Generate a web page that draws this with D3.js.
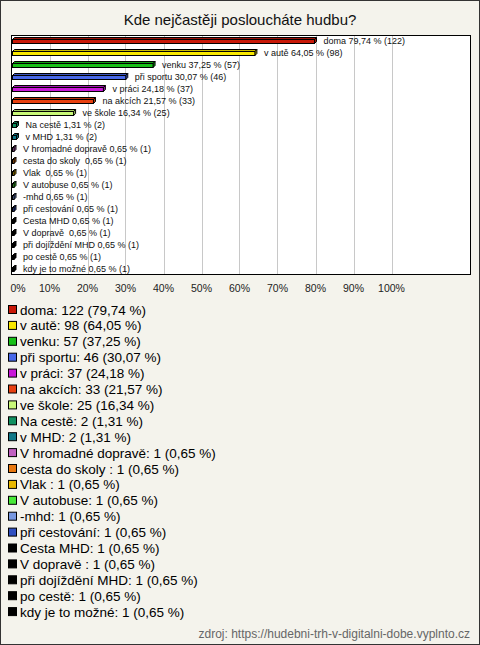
<!DOCTYPE html>
<html><head><meta charset="utf-8">
<script src="https://cdn.jsdelivr.net/npm/d3@7"></script>
<style>
html,body{margin:0;padding:0;background:#fff;}
svg text{font-family:"Liberation Sans",Arial,sans-serif;white-space:pre;}
</style></head>
<body>
<script>
const categories = ["doma","v autě","venku","při sportu","v práci","na akcích","ve škole","Na cestě","v MHD","V hromadné dopravě","cesta do skoly ","Vlak ","V autobuse","-mhd","při cestování","Cesta MHD","V dopravě ","při dojíždění MHD","po cestě","kdy je to možné"];
const counts = [122,98,57,46,37,33,25,2,2,1,1,1,1,1,1,1,1,1,1,1];
const percents = [79.74,64.05,37.25,30.07,24.18,21.57,16.34,1.31,1.31,0.65,0.65,0.65,0.65,0.65,0.65,0.65,0.65,0.65,0.65,0.65];
const colors = ["#c81808","#f8e800","#18c018","#4868e8","#c818d8","#e84010","#c8f878","#109060","#107888","#c060c0","#e87810","#e8b800","#48e838","#7898e0","#3050c0","#000","#000","#000","#000","#000"];
const ticks = [0,10,20,30,40,50,60,70,80,90,100];
const title = "Kde nejčastěji posloucháte hudbu?";
const source = "zdroj: https://hudebni-trh-v-digitalni-dobe.vyplnto.cz";

const W = 480, H = 645;
const fmt = v => v.toFixed(2).replace(".", ",");
const svg = d3.select("body").append("svg").attr("width", W).attr("height", H);
svg.append("rect").attr("x",0.5).attr("y",0.5).attr("width",W-1).attr("height",H-1)
  .attr("fill","#f4f3ec").attr("stroke","#333");
svg.append("text").attr("x",240).attr("y",25).attr("text-anchor","middle")
  .attr("font-size",15).attr("fill","#111").text(title);

const plot = {x0:11, x1:470, y0:35, y1:274};
svg.append("rect").attr("x",plot.x0+0.5).attr("y",plot.y0+0.5)
  .attr("width",plot.x1-plot.x0).attr("height",plot.y1-plot.y0)
  .attr("fill","#fff").attr("stroke","#000");

const x = d3.scaleLinear().domain([0,100]).range([11.5,391.5]);
const y = d3.scaleBand().domain(categories).range([plot.y0-0.5, plot.y1-0.5]).padding(0);

svg.append("g").selectAll("line").data(ticks.slice(1)).join("line")
  .attr("x1",d=>Math.round(x(d))+0.5).attr("x2",d=>Math.round(x(d))+0.5)
  .attr("y1",plot.y0+1).attr("y2",plot.y1)
  .attr("stroke","#c8c8c8");

svg.append("g").selectAll("text").data(ticks).join("text")
  .attr("x",d=>d===0 ? x(d)+6.5 : x(d)).attr("y",292)
  .attr("text-anchor","middle").attr("font-size",10.5).attr("fill","#222")
  .text(d=>d+"%");

const dep = 2, bh = 4;
const bars = svg.append("g").selectAll("g").data(categories).join("g");
bars.each(function(c,i){
  const g = d3.select(this);
  const x0 = x(0)+1, x1 = x(percents[i]);
  const yt = Math.round(y(c) + y.bandwidth()/2 - bh/2 + 1) + 0.5;
  const col = colors[i];
  const dark = d3.color(col).darker(0.6);
  g.append("path").attr("d",`M${x0},${yt}L${x0+dep},${yt-dep}L${x1+dep},${yt-dep}L${x1},${yt}Z`)
    .attr("fill",dark).attr("stroke","#000").attr("stroke-width",1);
  g.append("path").attr("d",`M${x1},${yt}L${x1+dep},${yt-dep}L${x1+dep},${yt-dep+bh}L${x1},${yt+bh}Z`)
    .attr("fill",dark).attr("stroke","#000").attr("stroke-width",1);
  g.append("rect").attr("x",x0).attr("y",yt).attr("width",Math.max(0,x1-x0)).attr("height",bh)
    .attr("fill",col).attr("stroke","#000").attr("stroke-width",1);
  g.append("text").attr("x",x1+9).attr("y",yt+4).attr("font-size",9).attr("fill","#111")
    .text(`${c} ${fmt(percents[i])} % (${counts[i]})`);
});

const ly = d3.scaleBand().domain(categories).range([302, 620]);
const leg = svg.append("g").selectAll("g").data(categories).join("g")
  .attr("transform",c=>`translate(0,${ly(c)})`);
leg.append("rect").attr("x",8.5).attr("y",3.5).attr("width",8).attr("height",8)
  .attr("fill",(c,i)=>colors[i]).attr("stroke","#000");
leg.append("text").attr("x",20).attr("y",12.5).attr("font-size",13.5).attr("fill","#000")
  .text((c,i)=>`${c}: ${counts[i]} (${fmt(percents[i])} %)`);

svg.append("text").attr("x",470).attr("y",638).attr("text-anchor","end")
  .attr("font-size",12).attr("fill","#666").text(source);
</script>
</body></html>
